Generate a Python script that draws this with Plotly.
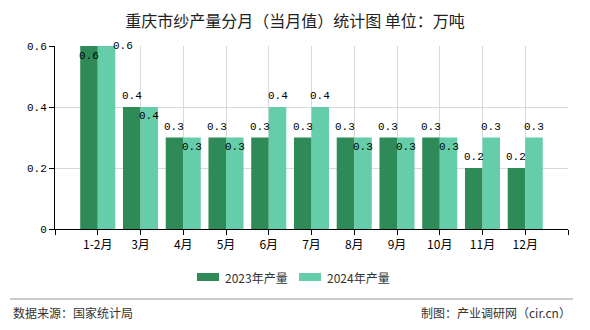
import plotly.graph_objects as go

categories = ["1-2月", "3月", "4月", "5月", "6月", "7月", "8月", "9月", "10月", "11月", "12月"]
y2023 = [0.6, 0.4, 0.3, 0.3, 0.3, 0.3, 0.3, 0.3, 0.3, 0.2, 0.2]
y2024 = [0.6, 0.4, 0.3, 0.3, 0.4, 0.4, 0.3, 0.3, 0.3, 0.3, 0.3]
series_names = ["2023年产量", "2024年产量"]
colors = ["#2e8b57", "#66cdaa"]
y_ticks = [0, 0.2, 0.4, 0.6]
y_max = 0.6

xs = list(range(len(categories)))
half = 0.205  # half of group width (bar width in category units)

fig = go.Figure()
fig.add_trace(go.Bar(x=xs, y=y2023, name=series_names[0], marker=dict(color=colors[0], line=dict(width=0))))
fig.add_trace(go.Bar(x=xs, y=y2024, name=series_names[1], marker=dict(color=colors[1], line=dict(width=0))))

label_font = dict(family="Liberation Mono, DejaVu Sans Mono, monospace", size=11, color="#000")
annotations = []
for i, (a, b) in enumerate(zip(y2023, y2024)):
    # 2023 label
    if a >= y_max:
        annotations.append(dict(x=i - half, y=a, text=f"{a:g}", showarrow=False, yanchor="top", yshift=-2, font=label_font))
    else:
        annotations.append(dict(x=i - half, y=a, text=f"{a:g}", showarrow=False, yanchor="bottom", yshift=3, font=label_font))
    # 2024 label
    if b >= y_max:
        annotations.append(dict(x=i + half, y=b, text=f"{b:g}", showarrow=False, yanchor="middle", xshift=16, font=label_font))
    elif b == a:
        annotations.append(dict(x=i + half, y=b, text=f"{b:g}", showarrow=False, yanchor="top", yshift=-1, font=label_font))
    else:
        annotations.append(dict(x=i + half, y=b, text=f"{b:g}", showarrow=False, yanchor="bottom", yshift=3, font=label_font))

# custom legend (wide swatches like the reference)
legend_font = dict(family="Noto Sans CJK SC", size=12, color="#333")
legend_x = [0.2768, 0.4756]
shapes = []
for lx, name, col in zip(legend_x, series_names, colors):
    shapes.append(dict(type="rect", xref="paper", yref="paper", x0=lx, x1=lx + 0.0429, y0=-0.2842, y1=-0.2404,
                       fillcolor=col, line=dict(width=0)))
    annotations.append(dict(xref="paper", yref="paper", x=lx + 0.0507, y=-0.2623, xanchor="left", yanchor="middle",
                            text=name, showarrow=False, font=legend_font))

annotations.append(dict(xref="paper", yref="paper", x=-0.086, y=-0.455, xanchor="left", yanchor="middle",
                        text="数据来源：国家统计局", showarrow=False,
                        font=dict(family="Noto Sans CJK SC", size=12, color="#333")))
annotations.append(dict(xref="paper", yref="paper", x=1.0095, y=-0.455, xanchor="right", yanchor="middle",
                        text="制图：产业调研网（cir.cn）", showarrow=False,
                        font=dict(family="Noto Sans CJK SC", size=12, color="#333")))

shapes.append(dict(type="line", xref="paper", yref="paper", x0=-0.0877, x1=1.0097, y0=-0.3825, y1=-0.3825,
                   line=dict(color="#999", width=1)))

fig.update_layout(
    width=590, height=330,
    margin=dict(l=55, r=22, t=46, b=101),
    paper_bgcolor="white", plot_bgcolor="white",
    title=dict(text="重庆市纱产量分月（当月值）统计图 单位：万吨", x=0.5, xanchor="center", y=0.935, yanchor="middle",
               font=dict(family="Noto Sans CJK SC", size=16, color="#222")),
    barmode="group", bargap=0.18, bargroupgap=0,
    showlegend=False,
    annotations=annotations,
    shapes=shapes,
    xaxis=dict(range=[-1, len(categories)], tickmode="array",
               tickvals=[-1] + xs + [len(categories)], ticktext=[""] + categories + [""],
               showgrid=True, gridcolor="#d9d9d9", gridwidth=1,
               showline=True, linecolor="#000", linewidth=1,
               ticks="outside", ticklen=5, tickcolor="#000",
               tickfont=dict(family="Noto Sans CJK SC", size=12, color="#000"), zeroline=False),
    yaxis=dict(range=[0, y_max], tickmode="array", tickvals=y_ticks, ticktext=[f"{t:g}" for t in y_ticks],
               showgrid=True, gridcolor="#d9d9d9", gridwidth=1,
               showline=True, linecolor="#000", linewidth=1,
               ticks="outside", ticklen=5, tickcolor="#000",
               tickfont=dict(family="Liberation Mono, monospace", size=11, color="#000"), zeroline=False),
)

fig.write_html("out.html")
